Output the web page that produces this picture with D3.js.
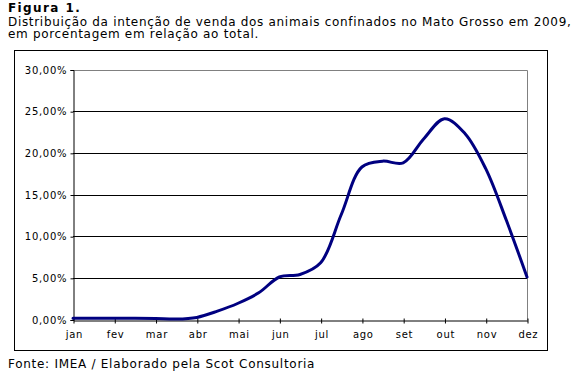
<!DOCTYPE html>
<html>
<head>
<meta charset="utf-8">
<script src="https://cdn.jsdelivr.net/npm/d3@7"></script>
<style>
  html, body { margin: 0; padding: 0; background: #fff; }
  svg { display: block; }
</style>
</head>
<body>
<svg id="chart" width="579" height="377"></svg>
<script>
// ---- data ----
const titleLines = [
  "Distribuição da intenção de venda dos animais confinados no Mato Grosso em 2009,",
  "em porcentagem em relação ao total."
];
const months = ["jan","fev","mar","abr","mai","jun","jul","ago","set","out","nov","dez"];
// values every half month (jan, mid-jan, fev, ...), percent of total
const values = [0.15, 0.15, 0.15, 0.15, 0.12, 0.05, 0.25, 1.0, 1.95, 3.2, 5.1, 5.4,
                6.8, 12.6, 18.3, 19.0, 18.8, 21.7, 24.1, 22.3, 18.1, 11.9, 5.1];
const yTicks = [0, 5, 10, 15, 20, 25, 30];

// ---- drawing ----
const svg = d3.select("#chart");
const font = "'DejaVu Sans', Verdana, sans-serif";

svg.append("text").attr("x", 8).attr("y", 11.5)
  .attr("font-family", font).attr("font-size", 12).attr("font-weight", "bold")
  .attr("letter-spacing", 1.4)
  .text("Figura 1.");
titleLines.forEach((t, i) => {
  svg.append("text").attr("x", 8).attr("y", 25.5 + i * 12.5)
    .attr("font-family", font).attr("font-size", 12).attr("letter-spacing", 0.68).text(t);
});
svg.append("text").attr("x", 8).attr("y", 368)
  .attr("font-family", font).attr("font-size", 12).attr("letter-spacing", 0.72)
  .text("Fonte: IMEA / Elaborado pela Scot Consultoria");

// outer frame
svg.append("rect").attr("x", 14.5).attr("y", 50.5).attr("width", 533).attr("height", 300)
  .attr("fill", "none").attr("stroke", "#000").attr("stroke-width", 1);

const x = d3.scaleLinear().domain([0, months.length - 1]).range([73, 527]);
const y = d3.scaleLinear().domain([0, 30]).range([319.5, 69.5]);

// gridlines
const g = svg.append("g");
g.selectAll("line.grid").data(yTicks.filter(v => v > 0 && v < 30)).join("line")
  .attr("x1", x(0)).attr("x2", x(11))
  .attr("y1", d => Math.round(y(d)) + 0.5).attr("y2", d => Math.round(y(d)) + 0.5)
  .attr("stroke", "#000").attr("stroke-width", 1);
// plot area border top/right (gray)
g.append("path")
  .attr("d", `M${x(0)},${Math.round(y(30)) + 0.5}H${x(11) + 0.5}V${Math.round(y(0))}`)
  .attr("fill", "none").attr("stroke", "#808080").attr("stroke-width", 1);

// y axis
const yAxis = d3.axisLeft(y).tickValues(yTicks).tickSize(3).tickPadding(4)
  .tickFormat(d => d3.format(".2f")(d).replace(".", ",") + "%");
const ya = svg.append("g").attr("transform", `translate(${x(0) + 0.5},0.5)`).call(yAxis);
ya.select(".domain").attr("stroke", "#000");
ya.selectAll("text").attr("font-family", font).attr("font-size", 10)
  .attr("letter-spacing", 0.7).attr("dx", 0.7).attr("fill", "#000");

// x axis
const xAxis = d3.axisBottom(x).tickValues(d3.range(months.length))
  .tickFormat(i => months[i]).tickSizeInner(3).tickSizeOuter(0).tickPadding(7);
const xa = svg.append("g").attr("transform", `translate(0.5,${Math.round(y(0)) + 0.5})`).call(xAxis);
xa.select(".domain").attr("stroke", "#000");
xa.selectAll(".tick line").attr("y1", -2).attr("y2", 3);
xa.selectAll("text").attr("font-family", font).attr("font-size", 10)
  .attr("letter-spacing", 0.7).attr("dx", 0.35).attr("fill", "#000");

// series line
const line = d3.line()
  .x((d, i) => x(i / 2))
  .y(d => y(d))
  .curve(d3.curveCatmullRom.alpha(0.5));
svg.append("path").datum(values)
  .attr("d", line)
  .attr("fill", "none").attr("stroke", "#000080").attr("stroke-width", 3)
  .attr("stroke-linejoin", "round").attr("stroke-linecap", "round");
</script>
</body>
</html>
